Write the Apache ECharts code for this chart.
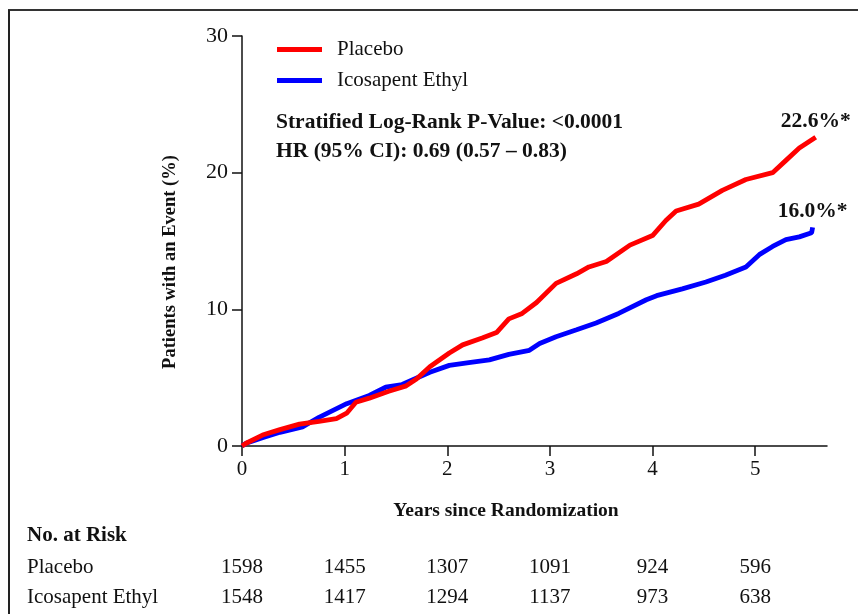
<!DOCTYPE html>
<html>
<head>
<meta charset="utf-8">
<script src="https://cdn.jsdelivr.net/npm/echarts@6/dist/echarts.min.js"></script>
<style>html,body{margin:0;padding:0;background:#fff;}#c{width:858px;height:614px;}</style>
</head>
<body>
<div id="c"></div>
<script>
// ---- data ----
const xTicks = [0, 1, 2, 3, 4, 5];
const yTicks = [0, 10, 20, 30];
const placeboT = [0, 0.04, 0.20, 0.37, 0.56, 0.75, 0.92, 1.02, 1.11, 1.24, 1.43, 1.60, 1.70, 1.83, 2.02, 2.15, 2.34, 2.48, 2.60, 2.73, 2.87, 3.06, 3.26, 3.38, 3.55, 3.78, 4.00, 4.13, 4.23, 4.45, 4.68, 4.91, 5.17, 5.30, 5.43, 5.59];
const placeboV = [0, 0.2, 0.8, 1.2, 1.6, 1.8, 2.0, 2.4, 3.2, 3.5, 4.0, 4.4, 4.9, 5.8, 6.8, 7.4, 7.9, 8.3, 9.3, 9.7, 10.5, 11.9, 12.6, 13.1, 13.5, 14.7, 15.4, 16.5, 17.2, 17.7, 18.7, 19.5, 20.0, 20.9, 21.8, 22.6];
const ipeT = [0, 0.04, 0.20, 0.37, 0.59, 0.75, 1.02, 1.24, 1.40, 1.56, 1.83, 2.02, 2.21, 2.41, 2.60, 2.80, 2.90, 3.06, 3.26, 3.45, 3.67, 3.94, 4.04, 4.29, 4.52, 4.71, 4.91, 5.04, 5.17, 5.30, 5.43, 5.55, 5.56];
const ipeV = [0, 0.2, 0.6, 1.0, 1.4, 2.1, 3.1, 3.7, 4.3, 4.5, 5.4, 5.9, 6.1, 6.3, 6.7, 7.0, 7.5, 8.0, 8.5, 9.0, 9.7, 10.7, 11.0, 11.5, 12.0, 12.5, 13.1, 14.0, 14.6, 15.1, 15.3, 15.6, 16.0];
const seriesNames = ['Placebo', 'Icosapent Ethyl'];
const placeboRisk = [1598, 1455, 1307, 1091, 924, 596];
const ipeRisk = [1548, 1417, 1294, 1137, 973, 638];
const statLines = ['Stratified Log-Rank P-Value: <0.0001', 'HR (95% CI): 0.69 (0.57 \u2013 0.83)'];
const xTitle = 'Years since Randomization';
const yTitle = 'Patients with an Event (%)';
const riskTitle = 'No. at Risk';

const FONT = '"Liberation Serif", "Times New Roman", serif';
const zip = (a, b) => a.map((v, i) => [v, b[i]]);

const chart = echarts.init(document.getElementById('c'), null, {renderer: 'canvas'});
const option = {
  animation: false,
  backgroundColor: '#fff',
  grid: {left: 242, right: 31, top: 36, bottom: 168, containLabel: false},
  legend: {
    data: seriesNames,
    orient: 'vertical',
    left: 277, top: 39, padding: 0,
    itemWidth: 45, itemHeight: 5, itemGap: 10,
    icon: 'rect',
    textStyle: {fontFamily: FONT, fontSize: 21, color: '#111', padding: [0, 0, 0, 10]}
  },
  xAxis: {
    type: 'value', min: 0, max: 5.7, interval: 1,
    axisLine: {show: true, lineStyle: {color: '#111', width: 1.5}},
    axisTick: {show: true, length: 10, lineStyle: {color: '#111', width: 1.5}, customValues: xTicks},
    axisLabel: {fontFamily: FONT, fontSize: 21, color: '#111', margin: 13, customValues: xTicks},
    splitLine: {show: false}
  },
  yAxis: {
    type: 'value', min: 0, max: 30, interval: 10,
    axisLine: {show: true, lineStyle: {color: '#111', width: 1.5}},
    axisTick: {show: true, length: 10, lineStyle: {color: '#111', width: 1.5}},
    axisLabel: {fontFamily: FONT, fontSize: 22, color: '#111', margin: 14},
    splitLine: {show: false}
  },
  series: [
    {name: seriesNames[1], type: 'line', data: zip(ipeT, ipeV), showSymbol: false, symbol: 'none',
     lineStyle: {color: '#0000ff', width: 4.8}, itemStyle: {color: '#0000ff'}, z: 2},
    {name: seriesNames[0], type: 'line', data: zip(placeboT, placeboV), showSymbol: false, symbol: 'none',
     lineStyle: {color: '#ff0000', width: 4.8}, itemStyle: {color: '#ff0000'}, z: 3}
  ]
};
chart.setOption(option);

function px(x, y) { return chart.convertToPixel({gridIndex: 0}, [x, y]); }
const g = [];
// frame
g.push({type: 'line', shape: {x1: 8, y1: 10, x2: 858, y2: 10}, style: {stroke: '#333', lineWidth: 2}});
g.push({type: 'line', shape: {x1: 9, y1: 10, x2: 9, y2: 614}, style: {stroke: '#222', lineWidth: 2}});
// axis titles
g.push({type: 'text', x: 170, y: 262, rotation: Math.PI / 2,
  style: {text: yTitle, font: 'bold 18.5px ' + FONT, fill: '#111', textAlign: 'center', textVerticalAlign: 'middle'}});
g.push({type: 'text', x: 506, y: 511,
  style: {text: xTitle, font: 'bold 19.5px ' + FONT, fill: '#111', textAlign: 'center', textVerticalAlign: 'middle'}});
// stats
statLines.forEach((t, i) => g.push({type: 'text', x: 276, y: 122 + i * 29,
  style: {text: t, font: 'bold 21.5px ' + FONT, fill: '#111', textVerticalAlign: 'middle', textAlign: 'left'}}));
// end labels
const pEnd = px(placeboT[placeboT.length - 1], placeboV[placeboV.length - 1]);
const iEnd = px(ipeT[ipeT.length - 1], ipeV[ipeV.length - 1]);
g.push({type: 'text', x: pEnd[0], y: pEnd[1] - 16,
  style: {text: placeboV[placeboV.length - 1].toFixed(1) + '%*', font: 'bold 21.5px ' + FONT, fill: '#111', textAlign: 'center', textVerticalAlign: 'middle'}});
g.push({type: 'text', x: iEnd[0], y: iEnd[1] - 16,
  style: {text: ipeV[ipeV.length - 1].toFixed(1) + '%*', font: 'bold 21.5px ' + FONT, fill: '#111', textAlign: 'center', textVerticalAlign: 'middle'}});
// risk table
g.push({type: 'text', x: 27, y: 536,
  style: {text: riskTitle, font: 'bold 21px ' + FONT, fill: '#111', textAlign: 'left', textVerticalAlign: 'middle'}});
const rows = [[seriesNames[0], placeboRisk, 567], [seriesNames[1], ipeRisk, 597]];
rows.forEach(([label, vals, y]) => {
  g.push({type: 'text', x: 27, y: y,
    style: {text: label, font: '21px ' + FONT, fill: '#111', textAlign: 'left', textVerticalAlign: 'middle'}});
  vals.forEach((v, i) => {
    const p = px(xTicks[i], 0);
    g.push({type: 'text', x: p[0], y: y,
      style: {text: String(v), font: '21px ' + FONT, fill: '#111', textAlign: 'center', textVerticalAlign: 'middle'}});
  });
});
chart.setOption({graphic: g});
</script>
</body>
</html>
